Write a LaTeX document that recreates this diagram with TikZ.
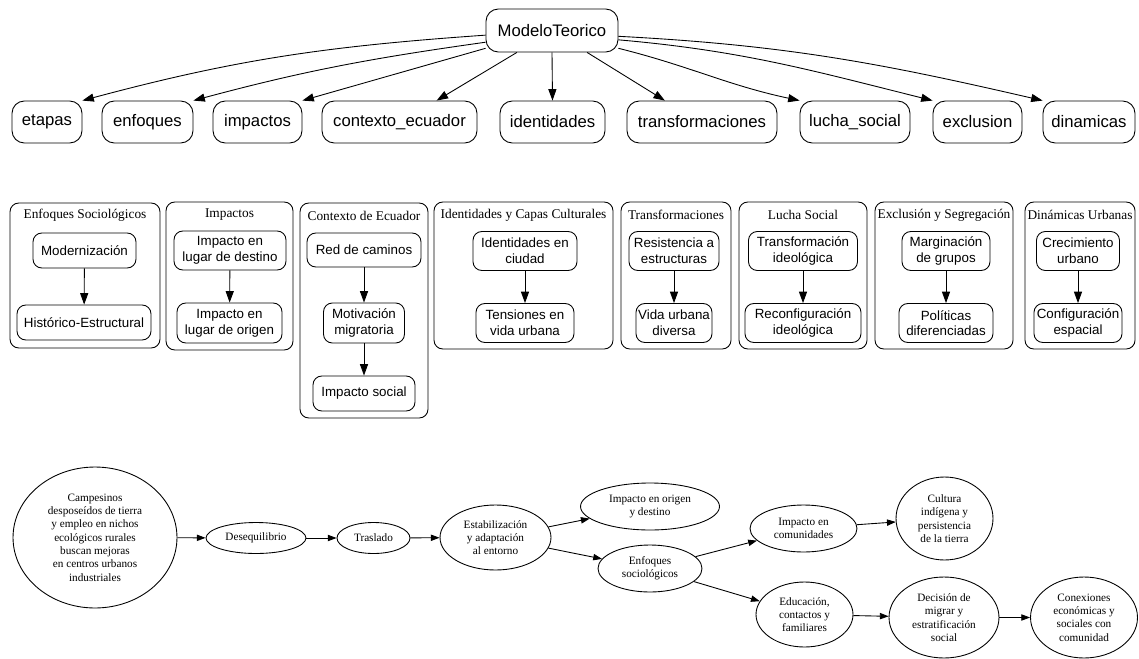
\documentclass[tikz,border=0pt]{standalone}
\usepackage{fontspec}
\setmainfont{Liberation Serif}
\setsansfont{Liberation Sans}
\usetikzlibrary{arrows.meta,shapes.geometric}

\tikzset{
  caja/.style={draw, rounded corners=7pt, line width=0.5pt, inner sep=0pt,
    minimum height=0.84cm, font=\fontsize{9.5}{11}\selectfont\sffamily},
  nodo/.style={draw, rounded corners=5pt, line width=0.5pt, inner sep=0pt,
    align=center, font=\fontsize{7.6}{8.9}\selectfont\sffamily},
  grupo/.style={draw, rounded corners=5pt, line width=0.5pt},
  titulo/.style={inner sep=0pt, font=\fontsize{7.6}{9}\selectfont\rmfamily},
  elip/.style={draw, ellipse, line width=0.5pt, inner sep=0pt, align=center,
    font=\fontsize{6.4}{7.6}\selectfont\rmfamily},
  flecha/.style={-{Triangle[length=6.5pt,width=4.6pt]}, line width=0.5pt},
  flechita/.style={-{Triangle[length=5pt,width=3.6pt]}, line width=0.5pt}
}

\begin{document}
\begin{tikzpicture}[x=0.02cm,y=-0.02cm]
    \useasboundingbox (0,0) rectangle (1139,659);

    \node[caja, minimum width=2.64cm, minimum height=0.86cm] (MT) at (552,30.5) {ModeloTeorico};

    \node[caja, minimum width=1.40cm] (etapas) at (47,122) {etapas};
    \node[caja, minimum width=1.82cm] (enfoques) at (147.5,122) {enfoques};
    \node[caja, minimum width=1.78cm] (impactos) at (257.5,122) {impactos};
    \node[caja, minimum width=3.10cm] (ctx) at (399.5,122) {contexto\_ecuador};
    \node[caja, minimum width=2.10cm] (ident) at (552.5,122) {identidades};
    \node[caja, minimum width=3.00cm] (trans) at (702,122) {transformaciones};
    \node[caja, minimum width=2.20cm] (lucha) at (855,122) {lucha\_social};
    \node[caja, minimum width=1.78cm] (exclu) at (977.5,122) {exclusion};
    \node[caja, minimum width=1.84cm] (dinam) at (1089,122) {dinamicas};

    \draw[flecha] (MT.184) to[out=184,in=15] (etapas.north east);
    \draw[flecha] (MT.190) to[out=188,in=15] (enfoques.north east);
    \draw[flecha] (MT.195) -- (impactos.north east);
    \draw[flecha] (MT.212) -- (ctx.30);
    \draw[flecha] (MT.south) -- (ident.north);
    \draw[flecha] (MT.328) -- (trans.150);
    \draw[flecha] (MT.345) to[out=-14,in=168] (lucha.north west);
    \draw[flecha] (MT.352) to[out=-5,in=166] (exclu.north west);
    \draw[flecha] (MT.355) to[out=-3,in=167] (dinam.north west);

    % grupos
    \draw[grupo] (10,203) rectangle (160,348);
    \draw[grupo] (166,202) rectangle (293,350);
    \draw[grupo] (300,203) rectangle (428,418);
    \draw[grupo] (434,202) rectangle (613,349);
    \draw[grupo] (621,202) rectangle (731,349);
    \draw[grupo] (739,202) rectangle (867,349);
    \draw[grupo] (875,202) rectangle (1013,349);
    \draw[grupo] (1025,202) rectangle (1135,349);

    \node[titulo] (tEnf) at (85,215) {Enfoques Sociológicos};
    \node[titulo] (tImp) at (229.5,215) {Impactos};
    \node[titulo] (tCtx) at (364,216) {Contexto de Ecuador};
    \node[titulo] (tIde) at (523.5,215) {Identidades y Capas Culturales};
    \node[titulo] (tTra) at (676,215) {Transformaciones};
    \node[titulo] (tLuc) at (803,215) {Lucha Social};
    \node[titulo] (tExc) at (944,215) {Exclusión y Segregación};
    \node[titulo] (tDin) at (1080,215) {Dinámicas Urbanas};

    \node[nodo, minimum width=2.06cm, minimum height=0.70cm] (E1) at (84.5,250.5) {Modernización};
    \node[nodo, minimum width=2.68cm, minimum height=0.70cm] (E2) at (84,322.5) {Histórico-Estructural};
    \draw[flecha] (E1) -- (E2);

    \node[nodo, minimum width=2.24cm, minimum height=0.78cm] (I1) at (230,250.5) {Impacto en\\lugar de destino};
    \node[nodo, minimum width=2.10cm, minimum height=0.80cm] (I2) at (229.5,323) {Impacto en\\lugar de origen};
    \draw[flecha] (I1) -- (I2);

    \node[nodo, minimum width=2.28cm, minimum height=0.68cm] (C1) at (364,250) {Red de caminos};
    \node[nodo, minimum width=1.62cm, minimum height=0.80cm] (C2) at (364,323) {Motivación\\migratoria};
    \node[nodo, minimum width=2.04cm, minimum height=0.70cm] (C3) at (364,393.5) {Impacto social};
    \draw[flecha] (C1) -- (C2);
    \draw[flecha] (C2) -- (C3);

    \node[nodo, minimum width=2.08cm, minimum height=0.78cm] (D1) at (525,251) {Identidades en\\ciudad};
    \node[nodo, minimum width=1.96cm, minimum height=0.78cm] (D2) at (525,323) {Tensiones en\\vida urbana};
    \draw[flecha] (D1) -- (D2);

    \node[nodo, minimum width=1.80cm, minimum height=0.78cm] (T1) at (674,251) {Resistencia a\\estructuras};
    \node[nodo, minimum width=1.52cm, minimum height=0.78cm] (T2) at (674,323) {Vida urbana\\diversa};
    \draw[flecha] (T1) -- (T2);

    \node[nodo, minimum width=2.18cm, minimum height=0.78cm] (L1) at (803,251) {Transformación\\ideológica};
    \node[nodo, minimum width=2.32cm, minimum height=0.78cm] (L2) at (803,323) {Reconfiguración\\ideológica};
    \draw[flecha] (L1) -- (L2);

    \node[nodo, minimum width=1.76cm, minimum height=0.78cm] (X1) at (946,251) {Marginación\\de grupos};
    \node[nodo, minimum width=1.88cm, minimum height=0.78cm] (X2) at (946,323) {Políticas\\diferenciadas};
    \draw[flecha] (X1) -- (X2);

    \node[nodo, minimum width=1.66cm, minimum height=0.78cm] (U1) at (1078,251) {Crecimiento\\urbano};
    \node[nodo, minimum width=1.76cm, minimum height=0.78cm] (U2) at (1078,323) {Configuración\\espacial};
    \draw[flecha] (U1) -- (U2);

    % etapas
    \node[elip, minimum width=3.28cm, minimum height=2.82cm] (camp) at (95,537.5) {Campesinos\\desposeídos de tierra\\y empleo en nichos\\ecológicos rurales\\buscan mejoras\\en centros urbanos\\industriales};
    \node[elip, minimum width=2.00cm, minimum height=0.62cm] (deseq) at (256,538) {Desequilibrio};
    \node[elip, minimum width=1.46cm, minimum height=0.62cm] (trasl) at (373.5,538) {Traslado};
    \node[elip, minimum width=2.22cm, minimum height=1.30cm] (estab) at (495.5,537.5) {Estabilización\\y adaptación\\al entorno};
    \node[elip, minimum width=2.78cm, minimum height=0.94cm] (impOD) at (650,506.5) {Impacto en origen\\y destino};
    \node[elip, minimum width=2.08cm, minimum height=0.94cm] (enfS) at (650,568.5) {Enfoques\\sociológicos};
    \node[elip, minimum width=2.14cm, minimum height=0.94cm] (impCom) at (803.5,528.5) {Impacto en\\comunidades};
    \node[elip, minimum width=1.94cm, minimum height=1.66cm] (cult) at (944.5,518.5) {Cultura\\indígena y\\persistencia\\de la tierra};
    \node[elip, minimum width=1.94cm, minimum height=1.30cm] (educ) at (804.5,614.5) {Educación,\\contactos y\\familiares};
    \node[elip, minimum width=2.20cm, minimum height=1.62cm] (decis) at (944,617.5) {Decisión de\\migrar y\\estratificación\\social};
    \node[elip, minimum width=2.14cm, minimum height=1.62cm] (conex) at (1084,617.5) {Conexiones\\económicas y\\sociales con\\comunidad};

    \draw[flechita] (camp) -- (deseq);
    \draw[flechita] (deseq) -- (trasl);
    \draw[flechita] (trasl) -- (estab);
    \draw[flechita] (estab) -- (impOD);
    \draw[flechita] (estab) -- (enfS);
    \draw[flechita] (enfS) -- (impCom);
    \draw[flechita] (enfS) -- (educ);
    \draw[flechita] (impCom) -- (cult);
    \draw[flechita] (educ) -- (decis);
    \draw[flechita] (decis) -- (conex);

\end{tikzpicture}
\end{document}
